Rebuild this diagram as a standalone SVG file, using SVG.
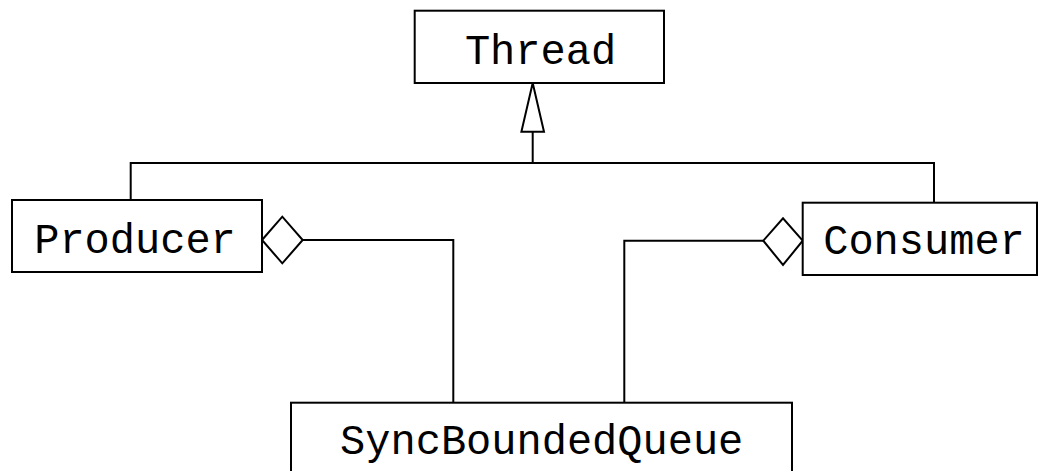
<svg xmlns="http://www.w3.org/2000/svg" width="1038" height="471" viewBox="0 0 1038 471">
<style>
.box{fill:#fff;stroke:#000;stroke-width:2}
.ln{fill:none;stroke:#000;stroke-width:2}
.lbl{font-family:"Liberation Mono","Courier New",monospace;font-size:42px;fill:#000;text-anchor:middle}
</style>
<rect width="1038" height="471" fill="#fff"/>
<g id="connectors">
<polyline class="ln" points="130.7,200 130.7,163 934,163 934,202.7"/>
<line class="ln" x1="532.7" y1="163" x2="532.7" y2="131.7"/>
<polygon class="box" points="532.7,83 544,131.7 521.4,131.7"/>
<polyline class="ln" points="302.7,240 453.3,240 453.3,402.7"/>
<polygon class="box" points="262,240 282.3,216.7 302.7,240 282.3,263.3"/>
<polyline class="ln" points="763.3,240.7 624.3,240.7 624.3,402.7"/>
<polygon class="box" points="802.7,240.7 783,218.3 763.3,240.7 783,265"/>
</g>
<g id="thread">
<rect class="box" x="414.7" y="10.7" width="249.3" height="72.3"/>
<text class="lbl" x="540.5" y="64">Thread</text>
</g>
<g id="producer">
<rect class="box" x="12" y="200" width="250" height="72"/>
<text class="lbl" x="135" y="253.3">Producer</text>
</g>
<g id="consumer">
<rect class="box" x="802.7" y="202.7" width="234.3" height="72.3"/>
<text class="lbl" x="924" y="254">Consumer</text>
</g>
<g id="queue">
<rect class="box" x="291" y="402.7" width="501" height="80"/>
<text class="lbl" x="541.7" y="454">SyncBoundedQueue</text>
</g>
</svg>
